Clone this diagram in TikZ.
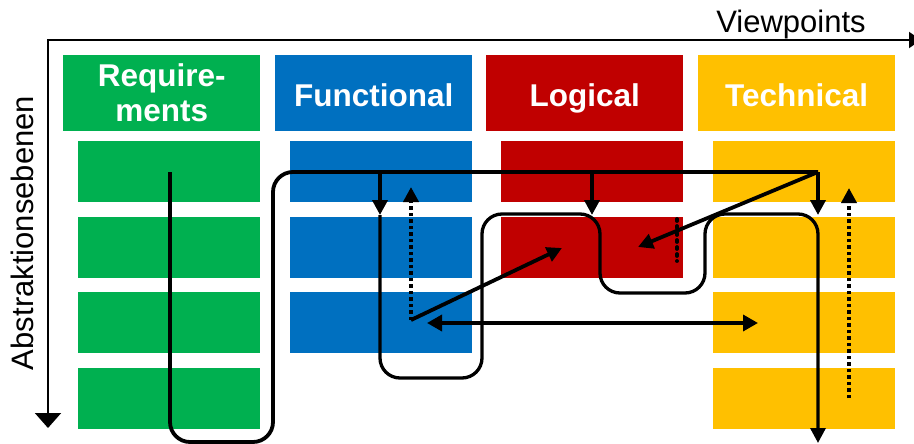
\documentclass[tikz,border=0pt]{standalone}
\usepackage{fontspec}
\setmainfont{Liberation Sans}
\usetikzlibrary{arrows.meta}

\definecolor{reqgreen}{HTML}{00B050}
\definecolor{funblue}{HTML}{0070C0}
\definecolor{logred}{HTML}{C00000}
\definecolor{techyellow}{HTML}{FFC000}

\tikzset{
  header/.style={anchor=north west, minimum width=197pt, minimum height=76pt,
    inner sep=0pt, text=white, font=\bfseries\fontsize{31.5}{35}\selectfont},
  oneline/.style={text height=26pt, text depth=0pt},
  level/.style={anchor=north west, minimum width=182pt, minimum height=61pt, inner sep=0pt},
  axis/.style={line width=2pt},
  flow/.style={line width=3.8pt, rounded corners=20pt},
  tip/.style={-{Triangle[length=15pt,width=15pt]}},
  dots/.style={line width=3.8pt, dash pattern=on 3.5pt off 3pt},
  axislabel/.style={font=\fontsize{31}{36}\selectfont, inner sep=0pt},
}

\begin{document}
\begin{tikzpicture}[x=1pt,y=-1pt]
  \clip (0,0) rectangle (914,444);

  % axes
  \coordinate (origin) at (48,40);
  \coordinate (xend) at (921,40);
  \coordinate (yend) at (48,428);
  \draw[axis, -{Triangle[length=12pt,width=16pt]}] (47,40) -- (xend);
  \draw[axis, -{Triangle[length=15pt,width=26pt]}] (origin) -- (yend);
  \node[axislabel, anchor=base] (vp) at (791,33) {Viewpoints};
  \node[axislabel, anchor=base, rotate=90] (ae) at (34,233) {Abstraktionsebenen};

  % viewpoint headers
  \node[header, fill=reqgreen, align=center] (hreq) at (63,55) {Require-\\ments};
  \node[header, oneline, fill=funblue] (hfun) at (275,55) {Functional};
  \node[header, oneline, fill=logred] (hlog) at (486,55) {Logical};
  \node[header, oneline, fill=techyellow] (htec) at (698,55) {Technical};

  % abstraction levels
  \foreach \i/\y in {1/141,2/217,3/292,4/368} {
    \node[level, fill=reqgreen] (req\i) at (78,\y) {};
    \node[level, fill=techyellow] (tec\i) at (713,\y) {};
  }
  \foreach \i/\y in {1/141,2/217,3/292} {
    \node[level, fill=funblue] (fun\i) at (290,\y) {};
  }
  \foreach \i/\y in {1/141,2/217} {
    \node[level, fill=logred] (log\i) at (501,\y) {};
  }

  % path through the requirements and the top line
  \coordinate (gstart) at (170,172);
  \coordinate (fdrop) at (380,172);
  \coordinate (ldrop) at (592,172);
  \coordinate (tdrop) at (818,172);
  \draw[flow] (gstart) -- (170,442) -- (273,442) -- (273,172) -- (tdrop);

  % drops onto the second level
  \coordinate (fland) at (380,215);
  \coordinate (lland) at (592,215);
  \coordinate (tland) at (818,215);
  \draw[flow, tip] (fdrop) -- (fland);
  \draw[flow, tip] (ldrop) -- (lland);
  \draw[flow, tip] (tdrop) -- (tland);

  % meandering path down to the technical bottom
  \coordinate (tbottom) at (818,443);
  \draw[line width=3.3pt, rounded corners=20pt, tip]
    (fland) -- (380,378) -- (482,378) -- (482,214) -- (600,214) -- (600,293)
    -- (705,293) -- (705,214) -- (818,214) -- (tbottom);

  % cross-view relations
  \coordinate (fsrc) at (411,320);
  \coordinate (fup) at (411,187);
  \coordinate (ltarget) at (562,248);
  \coordinate (lback) at (638,247);
  \draw[dots, tip] (fsrc) -- (fup);
  \draw[line width=3.8pt, tip] (fsrc) -- (ltarget);
  \draw[line width=3.8pt, tip] (tdrop) -- (lback);
  \draw[line width=3.5pt, {Triangle[length=15pt,width=16pt]}-{Triangle[length=15pt,width=16pt]}]
    (427,323) -- (758,323);

  % dotted traces
  \draw[line width=3.8pt, line cap=round, dash pattern=on 2pt off 5pt] (677,219) -- (677,261);
  \draw[dots, tip] (849,398) -- (849,188);
\end{tikzpicture}
\end{document}
